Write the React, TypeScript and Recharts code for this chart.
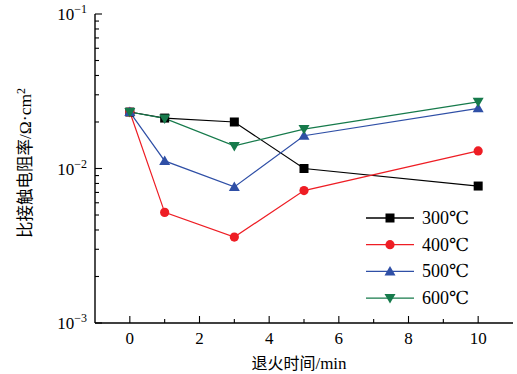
import { LineChart, Line, XAxis, YAxis, Legend } from 'recharts';

const times = [0, 1, 3, 5, 10];
const r300 = [0.0232, 0.0212, 0.02, 0.01, 0.0077];
const r400 = [0.0232, 0.0052, 0.0036, 0.0072, 0.013];
const r500 = [0.0232, 0.0112, 0.0076, 0.0163, 0.0245];
const r600 = [0.0232, 0.0211, 0.014, 0.018, 0.027];
const seriesNames = ['300℃', '400℃', '500℃', '600℃'];
const xTicks = [0, 1, 2, 3, 4, 5, 6, 7, 8, 9, 10];
const yTicks = [
  0.001, 0.002, 0.003, 0.004, 0.005, 0.006, 0.007, 0.008, 0.009,
  0.01, 0.02, 0.03, 0.04, 0.05, 0.06, 0.07, 0.08, 0.09, 0.1,
];

const data = times.map((t, i) => ({ t, s300: r300[i], s400: r400[i], s500: r500[i], s600: r600[i] }));

const COLORS: Record<string, string> = {
  '300℃': '#000000',
  '400℃': '#ee1d24',
  '500℃': '#2f4fa6',
  '600℃': '#167a4b',
};
const SHAPES: Record<string, string> = {
  '300℃': 'square',
  '400℃': 'circle',
  '500℃': 'up',
  '600℃': 'down',
};

const SERIF = "'Liberation Serif', 'DejaVu Serif', serif";
const CJK = "'Noto Sans CJK SC', sans-serif";

function Marker({ kind, cx, cy, color }: { kind: string; cx: number; cy: number; color: string }) {
  if (kind === 'square') return <rect x={cx - 4.5} y={cy - 4.5} width={9} height={9} fill={color} />;
  if (kind === 'circle') return <circle cx={cx} cy={cy} r={4.6} fill={color} />;
  if (kind === 'up')
    return <polygon points={`${cx},${cy - 5.5} ${cx + 5.5},${cy + 4} ${cx - 5.5},${cy + 4}`} fill={color} />;
  return <polygon points={`${cx},${cy + 5.5} ${cx + 5.5},${cy - 4} ${cx - 5.5},${cy - 4}`} fill={color} />;
}

const makeDot = (name: string) => (p: any) => (
  <Marker key={`${name}-${p.index}`} kind={SHAPES[name]} cx={p.cx} cy={p.cy} color={COLORS[name]} />
);

const isMajorY = (v: number) => Math.abs(Math.log10(v) - Math.round(Math.log10(v))) < 1e-6;

const BottomTick = ({ x, y, payload }: any) => {
  const v = payload.value;
  const major = v % 2 === 0;
  return (
    <g>
      <line x1={x} x2={x} y1={y} y2={y - (major ? 7 : 4)} stroke="#000" strokeWidth={1.1} />
      {major && (
        <text x={x} y={y + 21} textAnchor="middle" fontFamily={SERIF} fontSize={17} fill="#000">
          {v}
        </text>
      )}
    </g>
  );
};

const TopTick = ({ x, y, payload }: any) => {
  const major = payload.value % 2 === 0;
  return <line x1={x} x2={x} y1={y} y2={y + (major ? 7 : 4)} stroke="#000" strokeWidth={1.1} />;
};

const LeftTick = ({ x, y, payload }: any) => {
  const v = payload.value;
  const major = isMajorY(v);
  return (
    <g>
      <line x1={x} x2={x + (major ? 7 : 4)} y1={y} y2={y} stroke="#000" strokeWidth={1.1} />
      {major && (
        <text x={x - 8} y={y + 6} textAnchor="end" fontFamily={SERIF} fontSize={17} fill="#000">
          <tspan>10</tspan>
          <tspan dy={-7} fontSize={12}>{`\u2212${Math.round(-Math.log10(v))}`}</tspan>
        </text>
      )}
    </g>
  );
};

const RightTick = ({ x, y, payload }: any) => {
  const major = isMajorY(payload.value);
  return <line x1={x} x2={x - (major ? 7 : 4)} y1={y} y2={y} stroke="#000" strokeWidth={1.1} />;
};

const LegendBox = () => (
  <svg width={130} height={110}>
    {seriesNames.map((name, i) => {
      const y = 12 + i * 26.7;
      return (
        <g key={name}>
          <line x1={4} x2={52} y1={y} y2={y} stroke={COLORS[name]} strokeWidth={1.3} />
          <Marker kind={SHAPES[name]} cx={28} cy={y} color={COLORS[name]} />
          <text x={60} y={y + 6} fontFamily={SERIF} fontSize={18} fill="#000">
            {name}
          </text>
        </g>
      );
    })}
  </svg>
);

export default function App() {
  return (
    <div style={{ position: 'absolute', left: 0, top: 0, background: '#fff' }}>
      <LineChart width={517} height={374} data={data} margin={{ top: 14, right: 4, bottom: 0, left: 0 }}>
        <XAxis
          xAxisId="b"
          dataKey="t"
          type="number"
          domain={[-1, 11]}
          ticks={xTicks}
          interval={0}
          height={51}
          tickSize={0}
          tickMargin={0}
          tickLine={false}
          axisLine={{ stroke: '#000', strokeWidth: 1.4 }}
          tick={<BottomTick />}
          label={{
            content: () => (
              <text x={299} y={369} textAnchor="middle" fontFamily={CJK} fontSize={16} fill="#000">
                退火时间<tspan fontFamily={SERIF} fontSize={17}>/min</tspan>
              </text>
            ),
          }}
        />
        <XAxis
          xAxisId="t"
          orientation="top"
          dataKey="t"
          type="number"
          domain={[-1, 11]}
          ticks={xTicks}
          interval={0}
          height={0}
          tickSize={0}
          tickMargin={0}
          tickLine={false}
          axisLine={{ stroke: '#000', strokeWidth: 1.4 }}
          tick={<TopTick />}
        />
        <YAxis
          yAxisId="l"
          type="number"
          scale="log"
          domain={[0.001, 0.1]}
          allowDataOverflow
          ticks={yTicks}
          interval={0}
          width={95}
          tickSize={0}
          tickMargin={0}
          tickLine={false}
          axisLine={{ stroke: '#000', strokeWidth: 1.4 }}
          tick={<LeftTick />}
          label={{
            content: () => (
              <text
                x={31}
                y={163}
                transform="rotate(-90 31 163)"
                textAnchor="middle"
                fontFamily={CJK}
                fontSize={16.5}
                fill="#000"
              >
                比接触电阻率<tspan fontFamily={SERIF} fontSize={17.5}>/Ω·cm</tspan>
                <tspan dy={-6} fontFamily={SERIF} fontSize={12}>2</tspan>
              </text>
            ),
          }}
        />
        <YAxis
          yAxisId="r"
          orientation="right"
          type="number"
          scale="log"
          domain={[0.001, 0.1]}
          allowDataOverflow
          ticks={yTicks}
          interval={0}
          width={0}
          tickSize={0}
          tickMargin={0}
          tickLine={false}
          axisLine={{ stroke: '#000', strokeWidth: 1.4 }}
          tick={<RightTick />}
        />
        <Legend
          layout="vertical"
          align="center"
          verticalAlign="middle"
          content={<LegendBox />}
          wrapperStyle={{ left: 362, top: 206, width: 130, height: 110 }}
        />
        <Line xAxisId="b" yAxisId="l" name="300℃" dataKey="s300" stroke={COLORS['300℃']} strokeWidth={1.2} dot={makeDot('300℃')} isAnimationActive={false} />
        <Line xAxisId="b" yAxisId="l" name="400℃" dataKey="s400" stroke={COLORS['400℃']} strokeWidth={1.2} dot={makeDot('400℃')} isAnimationActive={false} />
        <Line xAxisId="b" yAxisId="l" name="500℃" dataKey="s500" stroke={COLORS['500℃']} strokeWidth={1.2} dot={makeDot('500℃')} isAnimationActive={false} />
        <Line xAxisId="b" yAxisId="l" name="600℃" dataKey="s600" stroke={COLORS['600℃']} strokeWidth={1.2} dot={makeDot('600℃')} isAnimationActive={false} />
      </LineChart>
    </div>
  );
}
